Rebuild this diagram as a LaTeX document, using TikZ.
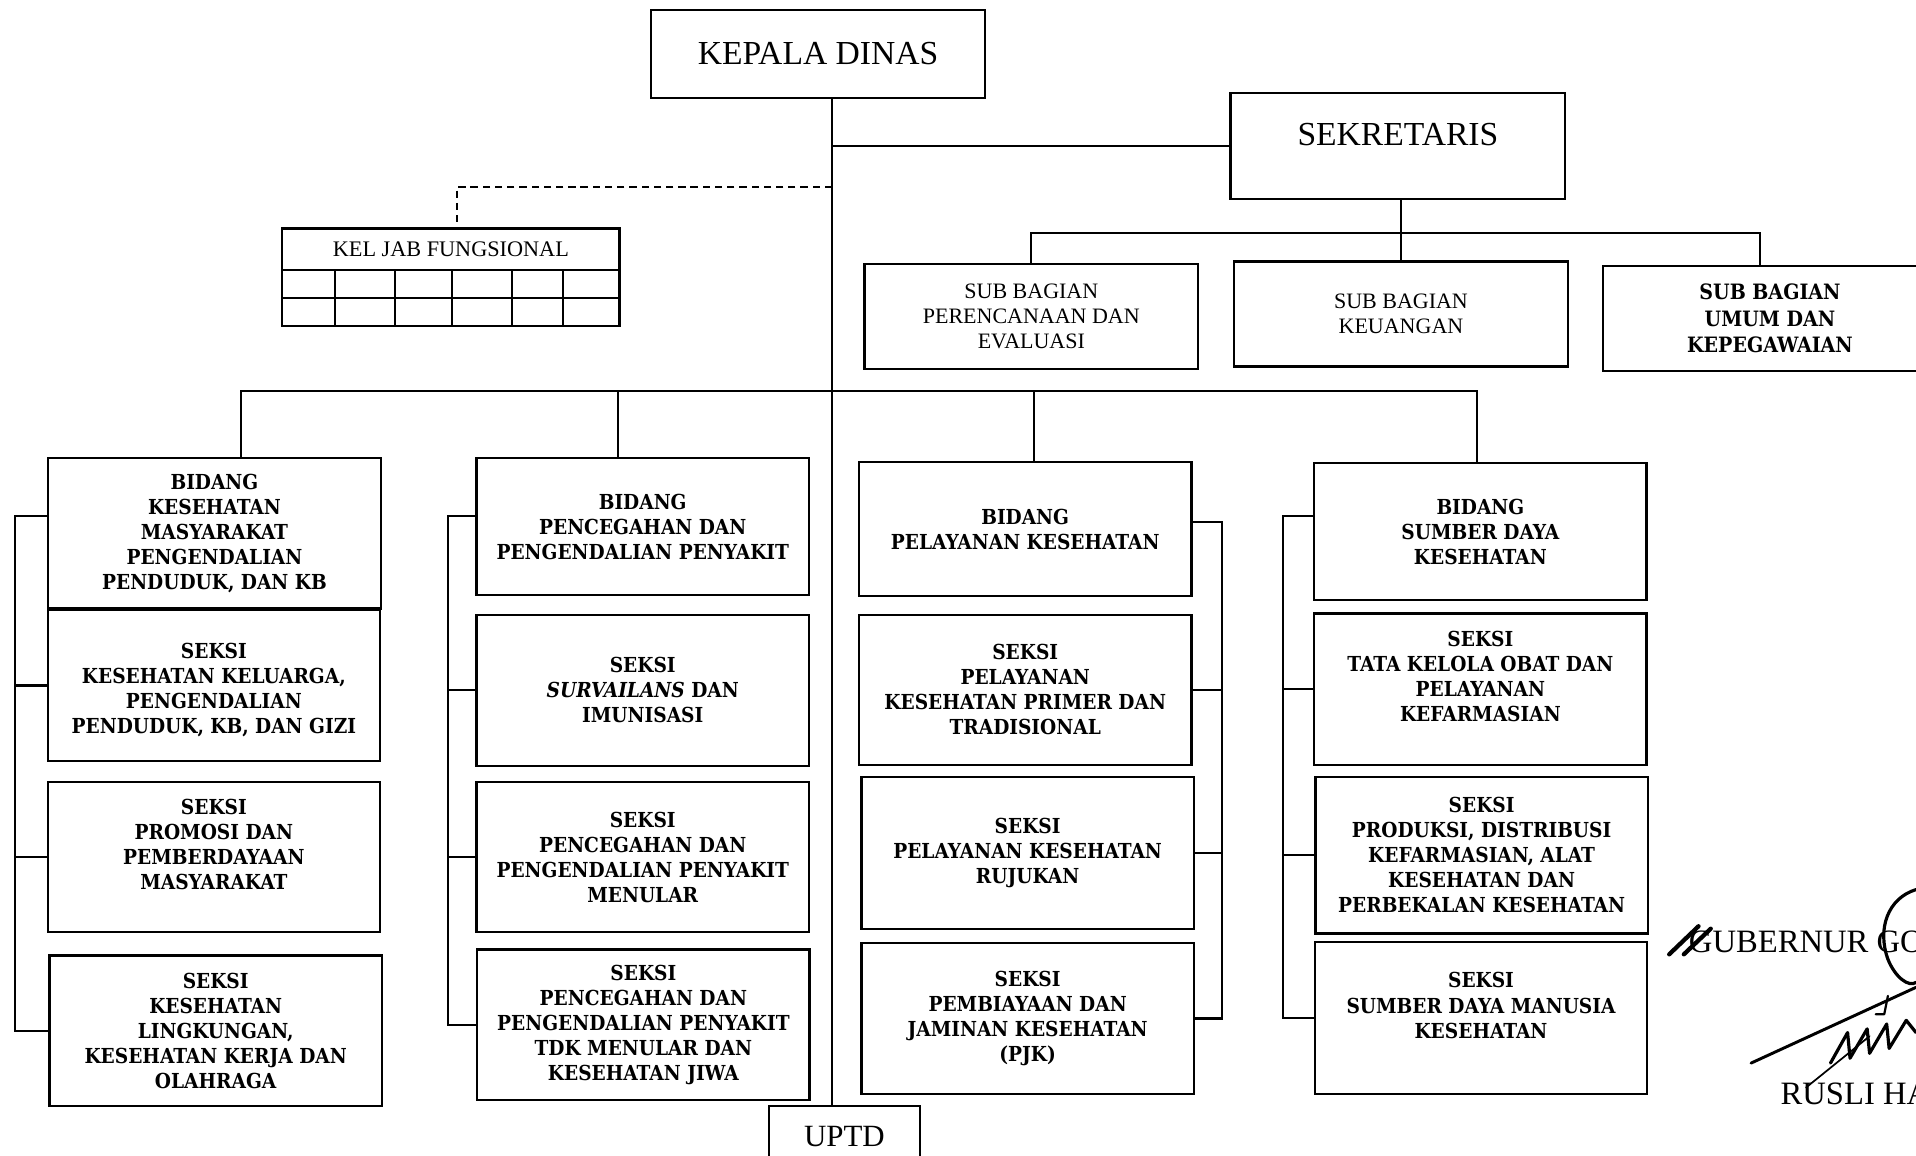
\documentclass[tikz,border=0pt]{standalone}
\usepackage{fontspec}
\setmainfont{Liberation Serif}
\newfontfamily\bkfont{DejaVu Serif Condensed}
\usetikzlibrary{calc}

\begin{document}
\begin{tikzpicture}[x=1pt, y=-1pt,
	box/.style={draw, line width=1.8pt, inner sep=0pt, align=center},
	head/.style={box, font=\fontsize{27.5}{30}\selectfont},
	subbag/.style={box, font=\fontsize{18}{20.5}\selectfont, minimum width=273pt, minimum height=86pt},
	unit/.style={box, font=\bkfont\bfseries\fontsize{16.9}{20.5}\selectfont, minimum width=272pt},
	conn/.style={line width=1.7pt},
	sig/.style={line width=2.2pt, line cap=round, line join=round}]
	\clip (0,0) rectangle (1568,946);
	% pimpinan
	\node[head, minimum width=273pt, minimum height=72pt] (kd) at (669.5,44) {KEPALA DINAS};
	\node[head, minimum width=274pt, minimum height=87pt, text depth=19pt] (sek) at (1144,119.5) {SEKRETARIS};
	\node[head, font=\fontsize{25.3}{28}\selectfont, minimum width=124pt, minimum height=50pt] (uptd) at (691,930) {UPTD};
	\node[box, font=\fontsize{18.2}{20}\selectfont, minimum width=276pt, minimum height=34pt] (kjf) at (369,204) {KEL JAB FUNGSIONAL};
	\foreach \xa/\xb in {231/274,274/323,323/370,370/419,419/461,461/507}
		\draw[line width=1.8pt] (\xa,221) rectangle (\xb,244) (\xa,244) rectangle (\xb,267);
	% sekretariat
	\node[subbag] (sb1) at (844,259) {SUB BAGIAN\\PERENCANAAN DAN\\EVALUASI};
	\node[subbag] (sb2) at (1146.5,257) {SUB BAGIAN\\KEUANGAN};
	\node[subbag, font=\bkfont\bfseries\fontsize{17.3}{21.5}\selectfont] (sb3) at (1448.5,260.5) {SUB BAGIAN\\UMUM DAN\\KEPEGAWAIAN};
	% bidang kesmas
	\node[unit, minimum height=123pt] (b1) at (175.5,436.5) {BIDANG\\KESEHATAN\\MASYARAKAT\\PENGENDALIAN\\PENDUDUK, DAN KB};
	\node[unit, minimum height=123pt] (s11) at (175,561) {\mbox{}\\SEKSI\\KESEHATAN KELUARGA,\\PENGENDALIAN\\PENDUDUK, KB, DAN GIZI};
	\node[unit, minimum height=123pt] (s12) at (175,701.5) {SEKSI\\PROMOSI DAN\\PEMBERDAYAAN\\MASYARAKAT\\\mbox{}};
	\node[unit, minimum height=123pt] (s13) at (176.5,843.5) {SEKSI\\KESEHATAN\\LINGKUNGAN,\\KESEHATAN KERJA DAN\\OLAHRAGA};
	% bidang p2p
	\node[unit, minimum height=112pt] (b2) at (526,431) {BIDANG\\PENCEGAHAN DAN\\PENGENDALIAN PENYAKIT};
	\node[unit, minimum height=124pt] (s21) at (526,565) {SEKSI\\\textit{SURVAILANS} DAN\\IMUNISASI};
	\node[unit, minimum height=123pt] (s22) at (526,701.5) {SEKSI\\PENCEGAHAN DAN\\PENGENDALIAN PENYAKIT\\MENULAR};
	\node[unit, minimum height=123pt] (s23) at (526.5,838.5) {SEKSI\\PENCEGAHAN DAN\\PENGENDALIAN PENYAKIT\\TDK MENULAR DAN\\KESEHATAN JIWA};
	% bidang yankes
	\node[unit, minimum height=110pt] (b3) at (839,433) {BIDANG\\PELAYANAN KESEHATAN};
	\node[unit, minimum height=123pt] (s31) at (839,564.5) {SEKSI\\PELAYANAN\\KESEHATAN PRIMER DAN\\TRADISIONAL};
	\node[unit, minimum height=124pt] (s32) at (841,698) {SEKSI\\PELAYANAN KESEHATAN\\RUJUKAN};
	\node[unit, minimum height=123pt] (s33) at (841,833.5) {SEKSI\\PEMBIAYAAN DAN\\JAMINAN KESEHATAN\\(PJK)};
	% bidang sdk
	\node[unit, minimum height=112pt] (b4) at (1211.5,435) {BIDANG\\SUMBER DAYA\\KESEHATAN};
	\node[unit, minimum height=124pt] (s41) at (1211.5,564) {SEKSI\\TATA KELOLA OBAT DAN\\PELAYANAN\\KEFARMASIAN\\\mbox{}};
	\node[unit, minimum height=128pt] (s42) at (1212.5,700) {SEKSI\\PRODUKSI, DISTRIBUSI\\KEFARMASIAN, ALAT\\KESEHATAN DAN\\PERBEKALAN KESEHATAN};
	\node[unit, minimum height=124pt] (s43) at (1212,833) {SEKSI\\SUMBER DAYA MANUSIA\\KESEHATAN\\\mbox{}};
	% garis komando
	\coordinate (spine) at (681,0);
	\coordinate (bus) at (681,320);
	\coordinate (sbus) at (1144,191);
	\coordinate (fj) at (374,153);
	\draw[conn] (kd.south -| spine) -- (uptd.north -| spine);
	\draw[conn] (sek.west -| spine) -- (sek.west);
	\draw[conn, dash pattern=on 6pt off 4pt] (fj -| spine) -- (fj) -- (fj |- kjf.north);
	\draw[conn] (sek.south -| sb2.north) -- (sb2.north);
	\coordinate (u3) at ($(sb3.north)+(-8,0)$);
	\draw[conn] (sb1.north) -- (sb1.north |- sbus) -- (u3 |- sbus) -- (u3);
	\coordinate (t1) at ($(b1.north)+(21.5,0)$);
	\coordinate (t2) at ($(b2.north)+(-20,0)$);
	\coordinate (t3) at ($(b3.north)+(7,0)$);
	\coordinate (t4) at ($(b4.north)+(-2.5,0)$);
	\draw[conn] (t1) -- (t1 |- bus) -- (t4 |- bus) -- (t4);
	\draw[conn] (t2) -- (t2 |- bus);
	\draw[conn] (t3) -- (t3 |- bus);
	% garis seksi
	\coordinate (r1) at (12,422);
	\coordinate (r2) at (367,422);
	\coordinate (r3) at (1000,427);
	\coordinate (r4) at (1050,422);
	\draw[conn] (r1 -| b1.west) -- (r1) -- (r1 |- s13.west) -- (s13.west);
	\draw[conn] (r2 -| b2.west) -- (r2) -- (r2 |- s23.west) -- (s23.west);
	\draw[conn] (r3 -| b3.east) -- (r3) -- (r3 |- s33.east) -- (s33.east);
	\draw[conn] (r4 -| b4.west) -- (r4) -- (r4 |- s43.west) -- (s43.west);
	\foreach \n in {s11,s12} \draw[conn] (r1 |- \n.west) -- (\n.west);
	\foreach \n in {s21,s22} \draw[conn] (r2 |- \n.west) -- (\n.west);
	\foreach \n in {s31,s32} \draw[conn] (r3 |- \n.east) -- (\n.east);
	\foreach \n in {s41,s42} \draw[conn] (r4 |- \n.west) -- (\n.west);
	% pengesahan
	\node[anchor=west, inner sep=0pt, font=\fontsize{26.7}{30}\selectfont] (gub) at (1382,771) {GUBERNUR GO};
	\node[anchor=west, inner sep=0pt, font=\fontsize{26.7}{30}\selectfont] (rus) at (1457,895) {RUSLI HA};
	\draw[sig, line width=3.5pt] (1366,781) -- (1390,758) (1378,781) -- (1400,760);
	\draw[sig, line width=2.6pt] (1568,728) .. controls (1545,735) and (1536,760) .. (1545,785) .. controls (1551,800) and (1562,808) .. (1568,804);
	\draw[sig, line width=2.4pt] (1433,870) -- (1568,808);
	\draw[sig, line width=2.6pt] (1498,870) -- (1512,845) -- (1514,866) -- (1528,842) -- (1530,862) -- (1544,838) -- (1546,858) -- (1560,835) -- (1568,845);
	\draw[sig, line width=1.8pt] (1545,815) -- (1542,830) -- (1535,830);
	\draw[sig, line width=1.4pt] (1478,890) -- (1530,848);
\end{tikzpicture}
\end{document}
